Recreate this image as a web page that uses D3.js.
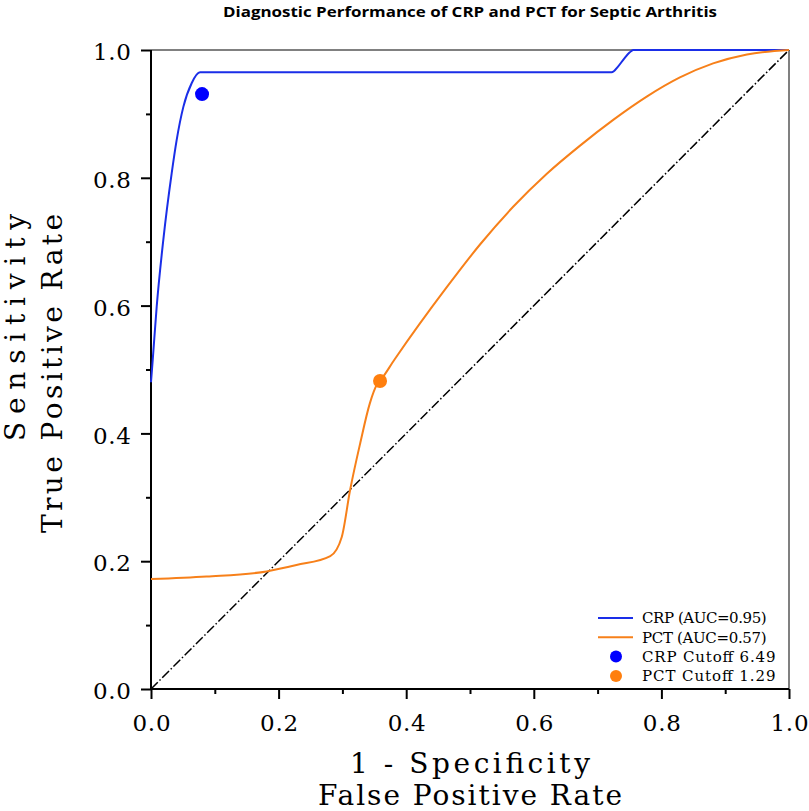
<!DOCTYPE html>
<html>
<head>
<meta charset="utf-8">
<script src="https://cdn.jsdelivr.net/npm/d3@7"></script>
<style>
  body { margin: 0; background: #fff; }
  text { font-family: "DejaVu Serif", serif; fill: #000; }
</style>
</head>
<body>
<svg id="chart" width="809" height="811"></svg>
<script>
// values
const crpFpr = [0, 0.0027, 0.0089, 0.0193, 0.0324, 0.0402, 0.0507, 0.0637, 0.0768, 0.722, 0.732, 0.742, 0.750, 0.756, 1.0];
const crpTpr = [0.480, 0.515, 0.598, 0.703, 0.807, 0.859, 0.911, 0.948, 0.965, 0.965, 0.974, 0.987, 0.996, 1.0, 1.0];

const pctFpr = [0, 0.087, 0.181, 0.228, 0.281, 0.299, 0.312, 0.328, 0.343, 0.354, 0.359, 0.382, 0.463, 0.516, 0.568, 0.620, 0.672, 0.725, 0.777, 0.829, 0.881, 0.934, 1.0];
const pctTpr = [0.172, 0.176, 0.184, 0.194, 0.208, 0.238, 0.311, 0.385, 0.447, 0.476, 0.482, 0.516, 0.628, 0.696, 0.755, 0.806, 0.850, 0.891, 0.927, 0.957, 0.979, 0.993, 1.0];

const cutoffs = [
  {name: 'CRP Cutoff 6.49', fpr: 0.08, tpr: 0.931, color: '#0000ff'},
  {name: 'PCT Cutoff 1.29', fpr: 0.359, tpr: 0.482, color: '#ff7f0e'}
];
const curves = [
  {name: 'CRP (AUC=0.95)', fpr: crpFpr, tpr: crpTpr, color: '#1a2ee8'},
  {name: 'PCT (AUC=0.57)', fpr: pctFpr, tpr: pctTpr, color: '#f7801a'}
];
const majorTicks = [0, 0.2, 0.4, 0.6, 0.8, 1.0];
const minorTicks = [0.1, 0.3, 0.5, 0.7, 0.9];

const titleText = 'Diagnostic Performance of CRP and PCT for Septic Arthritis';
const xLabel = ['1 - Specificity', 'False Positive Rate'];
const yLabel = ['Sensitivity', 'True Positive Rate'];

const svg = d3.select('#chart');
const x = d3.scaleLinear().domain([0, 1]).range([151, 789]);
const y = d3.scaleLinear().domain([0, 1]).range([689, 50]);
const fmt = d3.format('.1f');

// spines: top/right grey, left/bottom black
svg.append('line').attr('x1', x(0)).attr('x2', x(1)).attr('y1', y(1)).attr('y2', y(1))
    .attr('stroke', '#808080').attr('stroke-width', 2);
svg.append('line').attr('x1', x(1)).attr('x2', x(1)).attr('y1', y(0)).attr('y2', y(1))
    .attr('stroke', '#808080').attr('stroke-width', 2);

// axes (ticks only, domain drawn separately)
const xAxis = svg.append('g').attr('transform', `translate(0,${y(0)})`)
    .call(d3.axisBottom(x).tickValues(majorTicks).tickSize(10).tickPadding(16).tickFormat(fmt));
svg.append('g').attr('transform', `translate(0,${y(0)})`)
    .call(d3.axisBottom(x).tickValues(minorTicks).tickSize(5).tickFormat(''));
const yAxis = svg.append('g').attr('transform', `translate(${x(0)},0)`)
    .call(d3.axisLeft(y).tickValues(majorTicks).tickSize(10).tickPadding(10).tickFormat(fmt));
svg.append('g').attr('transform', `translate(${x(0)},0)`)
    .call(d3.axisLeft(y).tickValues(minorTicks).tickSize(5).tickFormat(''));

svg.selectAll('.domain').remove();
svg.selectAll('.tick line').attr('stroke', '#000').attr('stroke-width', 2);
svg.selectAll('.tick text')
    .style('font-family', '"DejaVu Serif", serif')
    .attr('font-size', 23)
    .attr('textLength', d => fmt(d).length * 12.7)
    .attr('lengthAdjust', 'spacing');
xAxis.selectAll('.tick text').attr('dy', '0.71em');
yAxis.selectAll('.tick text').attr('dy', '0.42em');

svg.append('line').attr('x1', x(0)).attr('x2', x(0)).attr('y1', y(0)).attr('y2', y(1))
    .attr('stroke', '#000').attr('stroke-width', 2);
svg.append('line').attr('x1', x(0)).attr('x2', x(1)).attr('y1', y(0)).attr('y2', y(0))
    .attr('stroke', '#000').attr('stroke-width', 2);

// chance diagonal
svg.append('line')
    .attr('x1', x(0)).attr('y1', y(0)).attr('x2', x(1)).attr('y2', y(1))
    .attr('stroke', '#000').attr('stroke-width', 1.5)
    .attr('stroke-dasharray', '9.6,2.4,1.5,2.4');

const line = d3.line().x(d => x(d[0])).y(d => y(d[1])).curve(d3.curveMonotoneX);
svg.selectAll('path.roc')
    .data(curves)
    .join('path')
    .attr('class', 'roc')
    .attr('fill', 'none')
    .attr('stroke', d => d.color)
    .attr('stroke-width', 2)
    .attr('d', d => line(d.fpr.map((f, i) => [f, d.tpr[i]])));

svg.selectAll('circle.cut')
    .data(cutoffs)
    .join('circle')
    .attr('class', 'cut')
    .attr('cx', d => x(d.fpr)).attr('cy', d => y(d.tpr))
    .attr('r', 7).attr('fill', d => d.color);

// legend
const legendItems = curves.map(c => ({name: c.name, color: c.color, kind: 'line'}))
    .concat(cutoffs.map(c => ({name: c.name, color: c.color, kind: 'dot'})));
const lg = svg.selectAll('g.leg').data(legendItems).join('g')
    .attr('class', 'leg')
    .attr('transform', (d, i) => `translate(0,${618 + i * 19.3})`);
lg.filter(d => d.kind === 'line').append('line')
    .attr('x1', 598).attr('x2', 633).attr('stroke', d => d.color).attr('stroke-width', 2);
lg.filter(d => d.kind === 'dot').append('circle')
    .attr('cx', 616).attr('r', 6).attr('fill', d => d.color);
lg.append('text')
    .attr('x', 642).attr('dy', '0.36em')
    .attr('font-size', 15)
    .attr('textLength', d => d.name.length * 8.9)
    .attr('lengthAdjust', 'spacing')
    .text(d => d.name);

// title
svg.append('text')
    .attr('x', 470).attr('y', 17)
    .attr('text-anchor', 'middle')
    .style('font-family', '"Open Sans", sans-serif')
    .attr('font-weight', 700).attr('font-size', 14)
    .attr('textLength', 494).attr('lengthAdjust', 'spacingAndGlyphs')
    .text(titleText);

// axis labels
svg.selectAll('text.xlab').data(xLabel).join('text')
    .attr('class', 'xlab')
    .attr('x', 470).attr('y', (d, i) => 773 + i * 32)
    .attr('text-anchor', 'middle')
    .attr('font-size', 28)
    .attr('textLength', d => d.length * 16)
    .attr('lengthAdjust', 'spacing')
    .text(d => d);

const yLabelLen = [227, 319];
svg.selectAll('text.ylab').data(yLabel).join('text')
    .attr('class', 'ylab')
    .attr('transform', (d, i) => `translate(${25 + i * 37},214) rotate(-90)`)
    .attr('text-anchor', 'end')
    .attr('font-size', 28)
    .attr('textLength', (d, i) => yLabelLen[i])
    .attr('lengthAdjust', 'spacing')
    .text(d => d);
</script>
</body>
</html>
